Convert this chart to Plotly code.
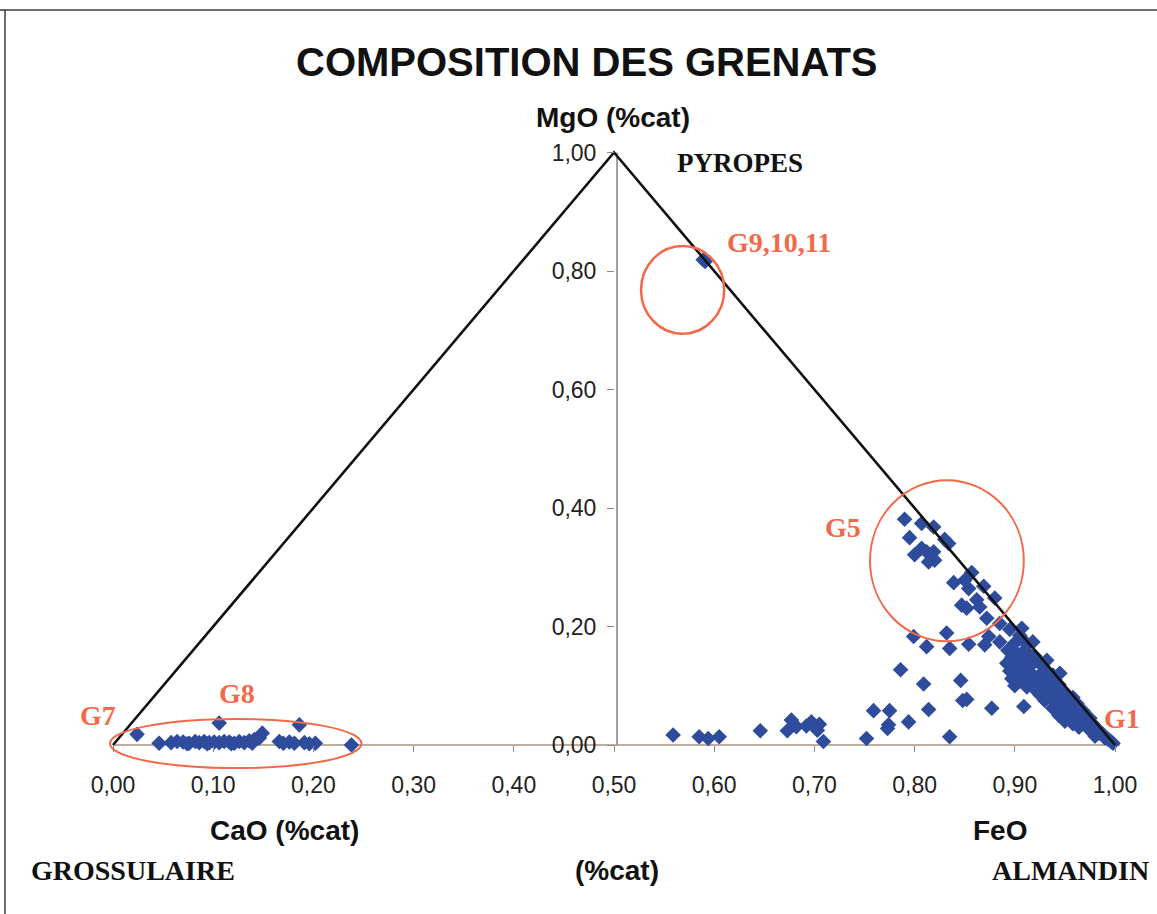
import plotly.graph_objects as go

W, H = 1157, 914

# Projected ternary coordinates: x runs along the CaO -> FeO base, y is MgO (%cat)
x_ticks = [0.0, 0.1, 0.2, 0.3, 0.4, 0.5, 0.6, 0.7, 0.8, 0.9, 1.0]
y_ticks = [0.0, 0.2, 0.4, 0.6, 0.8, 1.0]

# Triangle outline: Grossulaire - Pyropes - Almandin
triangle_x = [0.0, 0.5, 1.0]
triangle_y = [0.0, 1.0, 0.0]

# Garnet analyses (x, MgO)
g8_points = [
    (0.024, 0.018), (0.046, 0.003), (0.058, 0.004), (0.064, 0.006), (0.070, 0.005),
    (0.076, 0.003), (0.082, 0.006), (0.086, 0.004), (0.091, 0.006), (0.096, 0.004),
    (0.101, 0.005), (0.106, 0.004), (0.106, 0.037), (0.111, 0.006), (0.116, 0.005),
    (0.121, 0.003), (0.126, 0.006), (0.131, 0.004), (0.136, 0.007), (0.141, 0.009),
    (0.146, 0.012), (0.149, 0.020), (0.166, 0.006), (0.170, 0.003), (0.176, 0.005),
    (0.181, 0.003), (0.186, 0.034), (0.191, 0.004), (0.196, 0.002), (0.202, 0.003),
    (0.238, 0.000), (0.074, 0.002), (0.094, 0.002), (0.118, 0.002), (0.139, 0.003),
]

low_mg_points = [
    (0.559, 0.017), (0.585, 0.014), (0.594, 0.011), (0.605, 0.014), (0.646, 0.024),
    (0.673, 0.024), (0.677, 0.042), (0.682, 0.031), (0.692, 0.032), (0.697, 0.039),
    (0.705, 0.035), (0.703, 0.025), (0.709, 0.006), (0.752, 0.011), (0.759, 0.058),
    (0.775, 0.058), (0.774, 0.034), (0.773, 0.028), (0.794, 0.039), (0.835, 0.014),
    (0.814, 0.060), (0.877, 0.062), (0.909, 0.065), (0.852, 0.077), (0.848, 0.075),
    (0.846, 0.109), (0.809, 0.103), (0.786, 0.127),
]

mid_points = [
    (0.799, 0.183), (0.812, 0.166), (0.832, 0.189), (0.835, 0.163), (0.854, 0.170),
    (0.870, 0.169), (0.874, 0.183), (0.885, 0.174),
]

g5_points = [
    (0.790, 0.381), (0.807, 0.374), (0.819, 0.368), (0.830, 0.347), (0.834, 0.340),
    (0.795, 0.350), (0.800, 0.321), (0.807, 0.332), (0.812, 0.326), (0.819, 0.326),
    (0.820, 0.312), (0.814, 0.309), (0.857, 0.291), (0.839, 0.274), (0.850, 0.278),
    (0.854, 0.264), (0.869, 0.268), (0.880, 0.248), (0.847, 0.236), (0.852, 0.231),
    (0.862, 0.245), (0.865, 0.233), (0.872, 0.214), (0.885, 0.205), (0.907, 0.197),
    (0.918, 0.174),
]

almandin_points = [
    (0.895, 0.195), (0.905, 0.185), (0.908, 0.178), (0.900, 0.172), (0.912, 0.170),
    (0.893, 0.160), (0.900, 0.158), (0.907, 0.155), (0.915, 0.152), (0.920, 0.150),
    (0.925, 0.140), (0.897, 0.148), (0.905, 0.145), (0.912, 0.140), (0.918, 0.138),
    (0.892, 0.138), (0.900, 0.134), (0.908, 0.130), (0.928, 0.132), (0.932, 0.143),
    (0.895, 0.125), (0.903, 0.122), (0.910, 0.118), (0.917, 0.120), (0.925, 0.118),
    (0.932, 0.125), (0.938, 0.118), (0.897, 0.112), (0.905, 0.108), (0.914, 0.110),
    (0.922, 0.105), (0.930, 0.108), (0.940, 0.110), (0.944, 0.102), (0.900, 0.100),
    (0.945, 0.121), (0.912, 0.098), (0.920, 0.094), (0.928, 0.092), (0.936, 0.095),
    (0.945, 0.090), (0.950, 0.088), (0.925, 0.085), (0.933, 0.082), (0.942, 0.080),
    (0.952, 0.078), (0.958, 0.080), (0.930, 0.075), (0.940, 0.072), (0.948, 0.070),
    (0.956, 0.068), (0.962, 0.070), (0.938, 0.062), (0.946, 0.058), (0.955, 0.060),
    (0.962, 0.056), (0.968, 0.058), (0.944, 0.050), (0.952, 0.048), (0.960, 0.045),
    (0.970, 0.048), (0.975, 0.045), (0.950, 0.040), (0.958, 0.036), (0.966, 0.038),
    (0.972, 0.032), (0.978, 0.035), (0.964, 0.030), (0.975, 0.025), (0.982, 0.028),
    (0.984, 0.020), (0.988, 0.018), (0.980, 0.015), (0.990, 0.012), (0.993, 0.010),
    (0.996, 0.006), (0.998, 0.003),
]

pyrope_points = [(0.589, 0.819), (0.591, 0.816)]

all_points = g8_points + low_mg_points + mid_points + g5_points + almandin_points + pyrope_points
pts_x = [p[0] for p in all_points]
pts_y = [p[1] for p in all_points]

# data range chosen so that the triangle sits where the page layout needs it
X0_PX, X_SCALE = 113.0, 1002.0
Y0_PX, Y_SCALE = 745.0, 592.5
x_range = [-X0_PX / X_SCALE, (W - X0_PX) / X_SCALE]
y_range = [-(H - Y0_PX) / Y_SCALE, Y0_PX / Y_SCALE]
xaxis_pos = (0 - y_range[0]) / (y_range[1] - y_range[0])
yaxis_pos = (0.5 - x_range[0]) / (x_range[1] - x_range[0])

RED = "#f2694a"
BLUE = "#2f4c9c"
SANS = "Liberation Sans, Arial, sans-serif"
SERIF = "Liberation Serif, Times New Roman, serif"

fig = go.Figure()

# axis lines
fig.add_trace(go.Scatter(x=[0.0, 1.005], y=[0.0, 0.0], mode="lines",
                         line=dict(color="#a8917f", width=1.6), hoverinfo="skip"))
fig.add_trace(go.Scatter(x=[0.503, 0.503], y=[0.0, 1.0], mode="lines",
                         line=dict(color="#8a8a8a", width=1.6), hoverinfo="skip"))

# analyses
fig.add_trace(go.Scatter(x=pts_x, y=pts_y, mode="markers",
                         marker=dict(symbol="diamond", size=12, color=BLUE, line=dict(width=0))))

# triangle sides
fig.add_trace(go.Scatter(x=triangle_x, y=triangle_y, mode="lines",
                         line=dict(color="#111111", width=2.6), hoverinfo="skip"))

# group outlines
fig.add_shape(type="circle", xref="x", yref="y", x0=0.7555, x1=0.909, y0=0.175, y1=0.447,
              line=dict(color=RED, width=2))
fig.add_shape(type="circle", xref="x", yref="y", x0=0.527, x1=0.610, y0=0.694, y1=0.842,
              line=dict(color=RED, width=2.5))
fig.add_shape(type="circle", xref="x", yref="y", x0=-0.003, x1=0.248, y0=-0.039, y1=0.044,
              line=dict(color=RED, width=2))

# frame
fig.add_shape(type="line", xref="paper", yref="paper", x0=0, x1=1, y0=1 - 10 / H, y1=1 - 10 / H,
              line=dict(color="#3a3a3a", width=1.5))
fig.add_shape(type="line", xref="paper", yref="paper", x0=5 / W, x1=5 / W, y0=0, y1=1 - 10 / H,
              line=dict(color="#3a3a3a", width=1.5))


def label(text, px, py, family, size, color="#111111"):
    fig.add_annotation(text=text, x=px / W, y=1 - py / H, xref="paper", yref="paper",
                       showarrow=False, xanchor="center", yanchor="middle",
                       font=dict(family=family, size=size, color=color))


label("<b>COMPOSITION DES GRENATS</b>", 587, 62, SANS, 40)
label("<b>MgO (%cat)</b>", 613, 117, SANS, 28)
label("<b>CaO (%cat)</b>", 284, 830, SANS, 28)
label("<b>FeO</b>", 1000, 830, SANS, 28)
label("<b>(%cat)</b>", 617, 870, SANS, 28)
label("<b>PYROPES</b>", 740, 163, SERIF, 27)
label("<b>GROSSULAIRE</b>", 133, 870, SERIF, 28)
label("<b>ALMANDIN</b>", 1070, 870, SERIF, 28)
label("<b>G9,10,11</b>", 779, 243, SERIF, 28, RED)
label("<b>G5</b>", 843, 527, SERIF, 28, RED)
label("<b>G1</b>", 1122, 718, SERIF, 28, RED)
label("<b>G7</b>", 98, 715, SERIF, 28, RED)
label("<b>G8</b>", 237, 693, SERIF, 28, RED)

tick_font = dict(family=SANS, size=23, color="#222222")

fig.update_layout(
    width=W, height=H,
    margin=dict(l=0, r=0, t=0, b=0),
    paper_bgcolor="white", plot_bgcolor="white",
    showlegend=False,
    separators=", ",
    xaxis=dict(range=x_range, anchor="free", position=xaxis_pos,
               tickvals=x_ticks, tickformat=".2f", ticks="outside", ticklen=6,
               tickcolor="#8a8a8a", tickwidth=1.2, showline=False, showgrid=False,
               zeroline=False, tickfont=tick_font, ticklabelstandoff=13),
    yaxis=dict(range=y_range, anchor="free", position=yaxis_pos,
               tickvals=y_ticks, tickformat=".2f", ticks="outside", ticklen=7,
               tickcolor="#8a8a8a", tickwidth=1.2, showline=False, showgrid=False,
               zeroline=False, tickfont=tick_font, ticklabelstandoff=6),
)

fig.write_html("out.html")
